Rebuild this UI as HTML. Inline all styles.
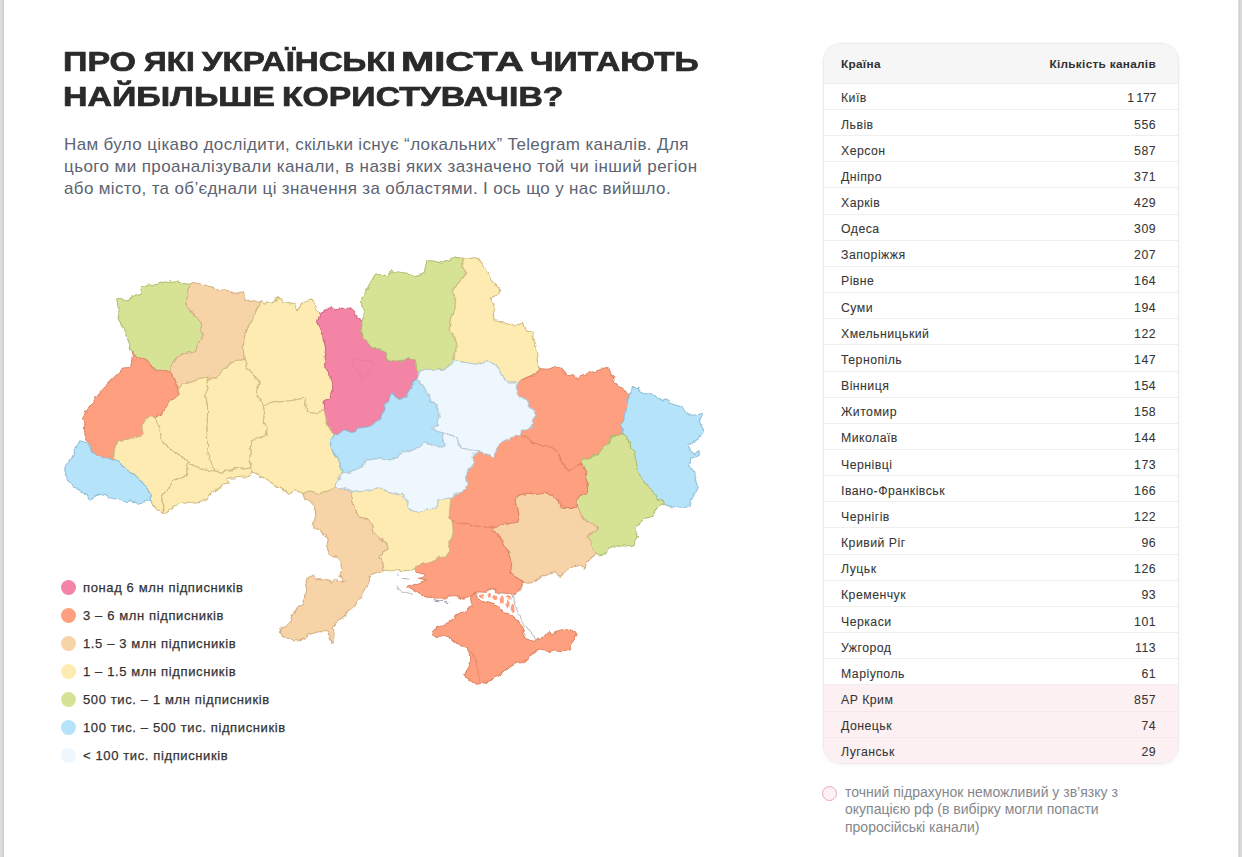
<!DOCTYPE html>
<html lang="uk">
<head>
<meta charset="utf-8">
<title>Про які українські міста читають найбільше користувачів?</title>
<style>
*{box-sizing:border-box;margin:0;padding:0}
html,body{width:1242px;height:857px;overflow:hidden;background:#fff}
body{font-family:"Liberation Sans",sans-serif;position:relative;color:#2b2b2b}
.edgeL{position:absolute;left:0;top:0;width:4px;height:857px;background:linear-gradient(90deg,#dcdcdc 0,#dadada 55%,#c9c9c9 85%,#e6e6e6 100%)}
.edgeR{position:absolute;left:1238px;top:0;width:4px;height:857px;background:linear-gradient(90deg,#ececec 0,#cfcfcf 25%,#d8d8d8 60%,#dadada 100%)}
h1{position:absolute;left:0;top:44px;font-size:27.2px;line-height:35.4px;font-weight:700;color:#2a2a2a;-webkit-text-stroke:.7px #2a2a2a;white-space:nowrap}
h1 span{position:absolute;top:0;transform-origin:0 0;display:block}
h1 span.l2{top:35.4px}
.lead{position:absolute;left:64px;top:134px;font-size:17px;line-height:21.8px;letter-spacing:.42px;color:#5c6372;white-space:nowrap}
#map{position:absolute;left:0;top:0}
.legend{position:absolute;left:60.5px;top:573.5px;list-style:none;font-size:13px;letter-spacing:.62px;color:#333;-webkit-text-stroke:.25px #333}
.legend li{height:28px;display:flex;align-items:center;white-space:nowrap}
.legend i{display:inline-block;width:15px;height:15px;border-radius:50%;margin-right:7.5px;flex:none}
.tbl{position:absolute;left:822.5px;top:42.6px;width:356px;height:721px;border-radius:18px;background:#fff;border:1px solid #ebebeb;box-shadow:0 1px 5px rgba(0,0,0,.045);overflow:hidden}
.tbl .hd{height:40.2px;background:#f6f6f6;display:flex;justify-content:space-between;align-items:center;padding:1.6px 21.5px 0 17.5px;font-weight:700;font-size:11.8px;letter-spacing:.3px;color:#303030;border-bottom:1.5px solid #ececec}
.tbl .r{height:26.17px;display:flex;justify-content:space-between;align-items:flex-start;padding:7.6px 21.5px 0 17.5px;font-size:12.3px;line-height:14px;letter-spacing:.46px;color:#363636;-webkit-text-stroke:.08px #363636;border-bottom:1px solid #efefef}
.tbl .r:last-child{border-bottom:0}
.tbl .r.p{background:#fdf0f3;border-bottom-color:#f8e6eb}
.note{position:absolute;left:845px;top:783.8px;font-size:14px;letter-spacing:0;line-height:17.5px;color:#84878d;white-space:nowrap}
.ring{position:absolute;left:822px;top:786px;width:15px;height:15px;border-radius:50%;border:1.5px solid #e6a8bd;background:#fdf1f5}
</style>
</head>
<body>
<div class="edgeL"></div><div class="edgeR"></div>
<h1><span style="left:63.1px;transform:scaleX(1.2488)">ПРО</span> <span style="left:144.0px;transform:scaleX(1.1604)">ЯКІ</span> <span style="left:202.1px;transform:scaleX(1.2156)">УКРАЇНСЬКІ</span> <span style="left:400.5px;transform:scaleX(1.4690)">МІСТА</span> <span style="left:530.3px;transform:scaleX(1.2342)">ЧИТАЮТЬ</span> <span class="l2" style="left:63.1px;transform:scaleX(1.2470)">НАЙБІЛЬШЕ</span> <span class="l2" style="left:281.5px;transform:scaleX(1.2416)">КОРИСТУВАЧІВ?</span></h1>
<p class="lead"><span style="letter-spacing:.365px">Нам було цікаво дослідити, скільки існує “локальних” Telegram каналів. Для</span><br>цього ми проаналізували канали, в назві яких зазначено той чи інший регіон<br><span style="letter-spacing:.35px">або місто, та об’єднали ці значення за областями. І ось що у нас вийшло.</span></p>
<svg id="map" width="1242" height="857" viewBox="0 0 1242 857">
<!--MAP-->
<defs><filter id="rough" x="40" y="240" width="690" height="460" filterUnits="userSpaceOnUse"><feTurbulence type="fractalNoise" baseFrequency="0.14" numOctaves="2" seed="7" result="n"/><feDisplacementMap in="SourceGraphic" in2="n" scale="4.5" xChannelSelector="R" yChannelSelector="G"/></filter></defs>
<g stroke-linejoin="round" stroke-width="1.1" filter="url(#rough)">
<path d="M131.5 352.0L129.2 348.3L130.0 345.0L126.7 336.7L123.3 328.3L119.2 320.0L117.5 315.0L118.3 308.3L116.7 300.0L121.7 298.3L128.3 300.8L133.3 296.7L140.0 293.3L141.7 287.5L148.3 285.0L158.3 284.2L170.0 280.8L175.0 281.7L181.7 283.3L190.0 284.2L188.3 293.3L186.7 301.7L188.3 308.3L193.3 314.2L198.3 318.3L201.7 325.0L200.8 330.0L202.5 335.0L199.2 341.7L196.7 348.3L194.2 353.3L188.3 352.5L181.7 354.2L176.7 358.3L171.7 365.0L170.0 372.5L163.3 370.0L156.7 370.8L151.7 365.0L145.0 360.0L138.3 357.5L133.3 354.2Z" fill="#d7e394" stroke="#b2bf76"/>
<path d="M190.0 284.2L193.3 282.5L201.7 284.2L211.7 286.7L218.3 290.0L226.7 290.0L235.0 293.3L243.3 291.7L245.0 300.0L253.3 300.8L260.8 301.7L257.5 308.3L253.3 316.7L248.3 326.7L244.2 336.7L243.3 348.3L244.2 359.2L235.0 361.7L228.3 365.0L220.0 373.3L213.3 378.3L208.3 381.0L207.5 377.0L200.0 378.5L191.7 380.8L183.3 383.3L179.2 388.3L175.0 383.3L172.5 376.7L170.0 372.5L171.7 365.0L176.7 358.3L181.7 354.2L188.3 352.5L194.2 353.3L196.7 348.3L199.2 341.7L202.5 335.0L200.8 330.0L201.7 325.0L198.3 318.3L193.3 314.2L188.3 308.3L186.7 301.7L188.3 293.3Z" fill="#f7d4a8" stroke="#d6b186"/>
<path d="M260.8 301.7L265.0 304.2L266.7 300.8L271.7 303.3L279.2 297.5L283.3 303.3L290.0 302.5L295.0 304.2L296.7 310.8L301.7 304.2L311.7 299.2L315.0 303.3L317.5 310.8L320.0 314.2L317.5 321.7L319.2 326.7L322.5 331.7L323.3 340.0L325.8 348.3L324.2 356.7L325.0 366.7L329.2 373.3L331.7 383.3L331.7 391.7L330.0 398.3L323.3 402.5L323.7 410.8L315.0 413.3L306.7 412.5L305.8 405.0L304.2 398.3L298.3 399.2L290.0 400.8L281.7 401.7L271.7 403.3L263.3 405.0L259.2 398.3L255.8 390.0L259.2 381.7L253.3 375.0L246.7 366.7L244.2 359.2L243.3 348.3L244.2 336.7L248.3 326.7L253.3 316.7L257.5 308.3Z" fill="#fdebb2" stroke="#d0bb80"/>
<path d="M320.0 314.2L325.0 310.0L331.7 306.7L335.0 310.0L341.7 308.0L350.0 308.3L354.2 312.5L355.8 316.7L362.0 321.0L361.3 326.7L362.5 335.0L366.7 340.8L370.0 347.5L380.0 349.2L385.0 353.3L387.5 360.0L395.0 362.5L403.3 360.8L408.3 357.5L414.2 360.0L415.8 366.7L419.5 371.7L417.5 378.5L415.0 380.0L412.5 385.8L409.2 391.7L405.0 396.7L400.0 399.2L395.0 397.5L391.7 392.5L390.0 396.7L385.8 403.3L383.3 411.7L380.0 418.3L375.0 423.3L368.3 426.7L360.0 428.3L353.3 431.7L345.0 429.2L340.0 432.5L334.2 435.0L331.7 430.0L326.7 425.0L325.8 416.7L323.7 410.8L323.3 402.5L330.0 398.3L331.7 391.7L331.7 383.3L329.2 373.3L325.0 366.7L324.2 356.7L325.8 348.3L323.3 340.0L322.5 331.7L319.2 326.7L317.5 321.7Z" fill="#f484a6" stroke="#d06a88"/>
<path d="M362.0 321.0L364.2 315.0L361.7 305.0L361.7 299.2L365.8 291.7L370.0 283.3L375.8 275.0L380.8 274.2L386.7 275.8L391.7 270.8L401.7 272.5L411.7 274.2L415.8 276.7L424.2 272.5L426.7 260.8L433.3 260.8L441.7 263.3L450.0 260.0L456.7 257.5L463.3 258.3L462.5 266.7L466.7 273.3L461.7 279.2L456.7 285.0L453.3 291.7L455.8 301.7L453.3 311.7L450.0 321.7L449.2 330.0L454.2 336.7L456.7 343.3L455.8 351.7L453.3 358.3L453.0 362.0L448.3 366.7L441.7 370.4L433.3 369.6L425.0 369.2L419.5 371.7L415.8 366.7L414.2 360.0L408.3 357.5L403.3 360.8L395.0 362.5L387.5 360.0L385.0 353.3L380.0 349.2L370.0 347.5L366.7 340.8L362.5 335.0L361.3 326.7Z" fill="#d7e394" stroke="#b2bf76"/>
<path d="M463.3 258.3L470.0 259.2L478.3 258.3L483.3 265.0L488.3 271.7L490.0 280.0L496.7 285.8L500.0 290.0L498.3 295.0L490.0 297.5L493.3 303.3L495.0 308.3L493.3 315.0L494.2 320.8L501.7 321.7L508.3 323.3L513.3 325.8L523.3 323.3L525.8 330.0L532.5 332.5L533.3 338.3L535.8 345.0L536.7 353.3L537.5 361.7L540.8 368.8L535.0 374.2L528.3 376.7L520.0 380.8L518.0 383.0L508.3 383.0L503.3 378.7L499.6 371.0L494.6 364.6L490.0 361.7L482.5 362.5L476.0 364.2L467.5 363.0L458.3 361.3L453.0 362.0L453.3 358.3L455.8 351.7L456.7 343.3L454.2 336.7L449.2 330.0L450.0 321.7L453.3 311.7L455.8 301.7L453.3 291.7L456.7 285.0L461.7 279.2L466.7 273.3L462.5 266.7Z" fill="#fdebb2" stroke="#d0bb80"/>
<path d="M540.8 368.8L548.3 369.2L555.0 366.7L561.7 368.3L566.7 374.2L573.3 375.0L577.5 379.2L583.3 375.0L593.3 371.7L601.7 369.2L607.5 367.5L610.0 373.3L613.3 376.7L615.0 382.5L620.0 387.5L625.0 390.8L628.3 395.8L627.5 403.3L625.8 410.0L623.3 416.7L621.7 423.3L622.5 430.0L623.3 434.2L616.7 434.2L611.7 436.7L608.3 443.0L603.3 448.7L598.3 453.7L591.7 457.0L583.3 459.2L581.7 463.3L575.0 466.7L568.3 471.0L565.0 466.7L560.0 458.0L556.7 451.3L551.7 447.5L543.3 446.3L535.0 443.5L528.3 438.3L520.8 435.0L521.3 430.0L526.7 430.0L531.5 427.0L532.5 421.3L536.2 416.3L534.0 411.5L528.8 406.7L526.7 400.0L520.0 397.5L516.2 393.0L518.0 383.0L520.0 380.8L528.3 376.7L535.0 374.2Z" fill="#fea080" stroke="#dd8768"/>
<path d="M628.3 395.8L632.5 391.7L633.3 387.5L638.3 387.5L639.2 391.7L646.7 394.2L651.7 393.3L656.7 398.3L661.7 400.8L667.5 398.3L670.8 403.3L678.3 405.8L684.2 410.0L689.2 415.0L696.7 415.0L702.5 413.3L701.7 417.5L699.2 420.8L701.7 426.7L704.2 430.8L700.0 435.8L696.7 440.0L691.7 443.3L687.5 445.0L689.2 450.0L693.3 454.2L699.2 450.8L699.2 455.0L695.0 456.7L690.8 458.3L688.3 465.0L693.3 470.0L695.0 478.3L697.5 485.0L695.0 491.7L691.7 498.3L690.0 506.7L685.0 507.5L678.3 506.7L670.0 506.7L664.2 504.2L662.5 500.0L656.7 499.2L655.0 495.0L650.0 488.3L643.3 482.5L640.0 475.8L637.5 468.0L635.8 460.0L634.2 453.0L629.6 448.0L629.2 443.3L626.7 437.5L623.3 434.2L622.5 430.0L621.7 423.3L623.3 416.7L625.8 410.0L627.5 403.3Z" fill="#b5e4fa" stroke="#93bfd7"/>
<path d="M623.3 434.2L626.7 437.5L629.2 443.3L629.6 448.0L634.2 453.0L635.8 460.0L637.5 468.0L640.0 475.8L643.3 482.5L650.0 488.3L655.0 495.0L656.7 499.2L662.5 500.0L664.2 504.2L658.3 506.7L654.2 511.7L653.3 515.8L646.7 518.3L640.0 521.7L636.7 526.7L635.8 533.3L637.5 536.7L635.0 540.0L634.2 545.8L630.0 546.7L623.3 545.8L615.0 546.7L608.3 549.2L604.2 554.2L601.7 556.7L595.8 554.2L593.3 548.3L590.0 541.7L588.3 536.7L593.3 532.5L598.3 528.3L593.3 525.0L586.7 521.7L581.7 516.7L579.2 510.0L577.5 505.0L576.7 498.3L581.7 495.8L587.5 495.0L587.5 486.7L585.8 478.3L586.7 471.7L583.3 467.5L581.7 463.3L583.3 459.2L591.7 457.0L598.3 453.7L603.3 448.7L608.3 443.0L611.7 436.7L616.7 434.2Z" fill="#d7e394" stroke="#b2bf76"/>
<path d="M577.5 505.0L579.2 510.0L581.7 516.7L586.7 521.7L593.3 525.0L598.3 528.3L593.3 532.5L588.3 536.7L590.0 541.7L593.3 548.3L595.8 554.2L591.7 557.5L586.7 562.5L584.2 569.2L580.0 565.0L573.3 566.7L566.7 569.2L563.3 575.0L560.0 577.5L555.0 571.7L548.3 573.3L541.7 576.7L535.0 581.7L528.3 583.3L523.3 581.7L515.0 576.7L510.0 570.0L510.8 560.0L508.3 551.7L503.3 543.3L500.0 536.7L492.0 527.5L500.0 525.0L510.0 523.3L516.7 522.5L518.3 516.7L516.7 508.3L515.0 500.0L518.3 495.0L526.7 493.3L536.7 494.2L545.0 493.3L553.3 495.8L557.5 500.0L560.0 506.7L566.7 507.5L575.0 507.5Z" fill="#f7d4a8" stroke="#d6b186"/>
<path d="M479.2 450.8L486.7 455.0L494.2 458.3L496.7 448.3L501.7 442.5L510.0 438.3L516.7 435.8L520.8 435.0L528.3 438.3L535.0 443.5L543.3 446.3L551.7 447.5L556.7 451.3L560.0 458.0L565.0 466.7L568.3 471.0L575.0 466.7L581.7 463.3L583.3 467.5L586.7 471.7L585.8 478.3L587.5 486.7L587.5 495.0L581.7 495.8L576.7 498.3L577.5 505.0L575.0 507.5L566.7 507.5L560.0 506.7L557.5 500.0L553.3 495.8L545.0 493.3L536.7 494.2L526.7 493.3L518.3 495.0L515.0 500.0L516.7 508.3L518.3 516.7L516.7 522.5L510.0 523.3L500.0 525.0L492.0 527.5L483.3 526.7L473.3 525.8L466.7 522.5L458.3 524.2L451.7 520.8L449.2 516.7L450.0 506.7L450.8 498.3L457.5 492.5L465.0 489.0L467.0 484.5L466.3 476.0L468.5 469.0L475.0 463.0L471.7 457.5Z" fill="#fea080" stroke="#dd8768"/>
<path d="M451.7 520.8L458.3 524.2L466.7 522.5L473.3 525.8L483.3 526.7L492.0 527.5L500.0 536.7L503.3 543.3L508.3 551.7L510.8 560.0L510.0 570.0L515.0 576.7L523.3 581.7L521.9 585.8L518.7 590.3L515.0 594.6L510.9 592.9L504.5 594.1L498.1 593.5L494.2 587.9L490.3 589.6L485.2 592.2L476.5 591.8L473.0 596.0L469.1 597.4L463.3 599.3L458.1 596.7L451.7 596.7L444.0 598.0L433.6 598.0L423.3 596.1L414.3 590.9L406.7 587.6L415.0 584.2L426.7 580.0L418.3 578.3L424.2 577.5L423.3 574.2L415.8 571.7L415.8 568.5L421.7 563.3L428.3 561.7L436.7 558.3L445.0 556.7L450.0 550.0L447.5 543.3L451.7 538.3L453.3 530.0Z" fill="#fea080" stroke="#dd8768"/>
<path d="M351.7 492.5L356.7 490.8L365.0 490.0L373.3 490.0L381.7 487.5L386.7 491.7L395.0 494.2L402.5 493.3L406.7 500.0L408.5 508.0L416.0 510.5L420.0 511.7L427.5 508.7L436.2 508.0L438.8 501.2L446.7 498.3L450.8 498.3L450.0 506.7L449.2 516.7L451.7 520.8L453.3 530.0L451.7 538.3L447.5 543.3L450.0 550.0L445.0 556.7L436.7 558.3L428.3 561.7L421.7 563.3L415.8 568.5L411.7 570.0L403.3 570.8L395.0 570.8L384.2 570.5L382.8 563.0L379.0 556.7L383.0 551.7L388.0 548.7L386.7 543.3L380.0 539.0L374.2 533.3L372.5 525.0L368.3 520.0L358.3 515.8L354.2 508.3L352.5 500.0Z" fill="#fdebb2" stroke="#d0bb80"/>
<path d="M303.3 493.3L310.0 490.8L318.3 493.3L325.0 492.5L331.7 489.2L335.0 487.5L340.0 487.5L346.7 490.0L351.7 492.5L352.5 500.0L354.2 508.3L358.3 515.8L368.3 520.0L372.5 525.0L374.2 533.3L380.0 539.0L386.7 543.3L388.0 548.7L383.0 551.7L379.0 556.7L382.8 563.0L384.2 570.5L376.7 573.3L370.0 576.7L367.5 583.3L363.3 591.7L358.3 600.0L351.7 608.3L345.0 615.0L338.3 620.8L331.7 626.7L333.3 630.0L334.2 635.0L333.3 641.7L330.8 642.5L330.0 636.7L326.7 631.7L318.3 631.7L310.0 634.2L303.3 638.3L298.3 640.8L291.7 640.8L285.0 638.3L280.8 633.3L280.0 628.3L285.8 626.7L290.8 621.7L290.0 616.7L295.0 612.5L298.3 606.7L302.5 603.3L305.0 596.7L306.7 590.0L305.0 580.8L308.3 577.5L314.2 575.0L316.7 580.0L319.2 577.5L322.5 580.8L325.8 579.2L330.8 582.5L334.2 579.2L338.3 581.7L344.2 580.8L340.0 575.8L341.7 570.0L340.8 562.5L336.7 557.5L329.2 553.3L326.7 546.7L328.3 538.3L323.3 535.0L320.0 530.0L314.2 528.3L312.5 523.3L315.0 520.0L315.8 513.3L314.2 505.0L310.0 500.0L304.2 499.2Z" fill="#f7d4a8" stroke="#d6b186"/>
<path d="M263.3 405.0L271.7 403.3L281.7 401.7L290.0 400.8L298.3 399.2L304.2 398.3L305.8 405.0L306.7 412.5L315.0 413.3L323.7 410.8L325.8 416.7L326.7 425.0L331.7 430.0L334.2 435.0L330.8 440.8L330.0 446.7L333.3 453.3L338.3 460.0L341.7 466.7L343.3 473.3L339.2 478.3L335.8 483.3L335.0 487.5L331.7 489.2L325.0 492.5L318.3 493.3L310.0 490.8L303.3 493.3L295.0 490.8L288.3 493.3L283.3 490.0L275.8 485.8L268.3 480.8L260.0 475.8L253.0 473.0L250.8 467.0L250.0 458.3L250.0 448.3L252.5 440.8L260.0 437.5L266.7 435.0L266.7 428.3L263.3 421.7L264.2 413.3Z" fill="#fdebb2" stroke="#d0bb80"/>
<path d="M244.2 359.2L246.7 366.7L253.3 375.0L259.2 381.7L255.8 390.0L259.2 398.3L263.3 405.0L264.2 413.3L263.3 421.7L266.7 428.3L266.7 435.0L260.0 437.5L252.5 440.8L250.0 448.3L250.0 458.3L250.8 467.0L243.3 468.0L235.0 469.0L226.7 470.8L221.7 473.5L215.5 471.0L210.8 465.0L208.3 456.7L207.5 446.7L207.5 436.7L206.7 426.7L207.5 416.7L207.5 406.7L205.8 396.7L206.7 388.3L208.3 381.0L213.3 378.3L220.0 373.3L228.3 365.0L235.0 361.7Z" fill="#fdebb2" stroke="#d0bb80"/>
<path d="M179.2 388.3L183.3 383.3L191.7 380.8L200.0 378.5L207.5 377.0L208.3 381.0L206.7 388.3L205.8 396.7L207.5 406.7L207.5 416.7L206.7 426.7L207.5 436.7L207.5 446.7L208.3 456.7L210.8 465.0L215.5 471.0L211.7 470.8L205.0 470.0L200.0 468.0L193.3 465.3L187.5 463.5L183.3 457.5L176.7 453.3L170.0 449.2L163.3 443.3L160.8 435.0L159.2 426.7L155.8 420.0L155.0 417.5L161.7 413.3L165.8 406.7L170.0 400.8L177.5 395.8L178.3 391.7Z" fill="#fdebb2" stroke="#d0bb80"/>
<path d="M89.2 443.3L85.0 435.0L84.2 425.0L82.5 417.5L85.0 413.3L90.8 405.0L98.3 395.0L106.7 385.0L115.0 376.7L121.7 370.0L130.8 366.7L132.5 356.7L131.5 352.0L133.3 354.2L138.3 357.5L145.0 360.0L151.7 365.0L156.7 370.8L163.3 370.0L170.0 372.5L172.5 376.7L175.0 383.3L179.2 388.3L178.3 391.7L177.5 395.8L170.0 400.8L165.8 406.7L161.7 413.3L155.0 417.5L147.5 416.7L144.2 421.7L141.7 428.3L144.2 434.2L135.0 436.7L126.7 439.2L118.3 441.7L115.0 446.7L114.2 453.3L113.3 459.5L108.3 459.2L103.3 456.7L95.0 454.2L90.8 450.0Z" fill="#fea080" stroke="#dd8768"/>
<path d="M155.0 417.5L155.8 420.0L159.2 426.7L160.8 435.0L163.3 443.3L170.0 449.2L176.7 453.3L183.3 457.5L187.5 463.5L186.7 471.7L186.7 475.0L181.7 477.5L175.0 480.0L169.2 486.7L164.2 493.3L161.7 500.0L164.2 506.7L161.7 513.3L158.3 510.8L153.3 506.7L150.8 500.8L150.0 495.0L147.5 488.3L143.3 482.5L138.3 478.3L133.3 473.3L126.7 470.0L121.7 465.0L117.5 460.8L113.3 459.5L114.2 453.3L115.0 446.7L118.3 441.7L126.7 439.2L135.0 436.7L144.2 434.2L141.7 428.3L144.2 421.7L147.5 416.7Z" fill="#fdebb2" stroke="#d0bb80"/>
<path d="M113.3 459.5L117.5 460.8L121.7 465.0L126.7 470.0L133.3 473.3L138.3 478.3L143.3 482.5L147.5 488.3L150.0 495.0L150.8 500.8L145.0 501.7L138.3 503.3L131.7 500.8L125.0 501.7L118.3 499.2L111.7 498.3L105.0 494.2L99.2 493.3L95.0 497.5L90.0 500.0L86.7 494.2L80.0 491.7L73.3 485.0L67.5 479.2L64.2 473.3L66.7 465.8L71.7 458.3L75.8 448.3L80.0 440.8L89.2 443.3L90.8 450.0L95.0 454.2L103.3 456.7L108.3 459.2Z" fill="#b5e4fa" stroke="#93bfd7"/>
<path d="M187.5 463.5L193.3 465.3L200.0 468.0L205.0 470.0L211.7 470.8L215.5 471.0L221.7 473.5L226.7 470.8L235.0 469.0L243.3 468.0L250.8 467.0L253.0 473.0L246.7 476.7L238.3 477.5L231.7 478.3L226.7 478.3L229.2 482.5L223.3 484.2L220.0 486.7L215.0 490.0L210.0 495.0L206.7 500.0L198.3 501.7L188.3 502.5L181.7 503.3L175.0 505.0L171.7 508.3L168.3 512.5L165.0 513.3L161.7 513.3L164.2 506.7L161.7 500.0L164.2 493.3L169.2 486.7L175.0 480.0L181.7 477.5L186.7 475.0L186.7 471.7Z" fill="#fdebb2" stroke="#d0bb80"/>
<path d="M334.2 435.0L340.0 432.5L345.0 429.2L353.3 431.7L360.0 428.3L368.3 426.7L375.0 423.3L380.0 418.3L383.3 411.7L385.8 403.3L390.0 396.7L391.7 392.5L395.0 397.5L400.0 399.2L405.0 396.7L409.2 391.7L412.5 385.8L415.0 380.0L417.5 378.5L423.3 385.8L427.5 393.3L430.8 400.8L436.7 406.7L440.0 413.3L437.5 420.0L438.3 425.8L431.7 427.5L436.7 430.8L443.3 432.5L442.5 438.3L444.2 445.8L436.7 447.5L430.0 443.3L423.3 443.3L418.3 448.3L411.7 450.0L403.3 451.7L396.7 456.7L390.0 459.6L381.7 458.0L373.3 459.2L365.0 460.8L362.5 466.7L356.7 469.2L348.3 472.5L343.3 473.3L341.7 466.7L338.3 460.0L333.3 453.3L330.0 446.7L330.8 440.8Z" fill="#b5e4fa" stroke="#93bfd7"/>
<path d="M419.5 371.7L425.0 369.2L433.3 369.6L441.7 370.4L448.3 366.7L453.0 362.0L458.3 361.3L467.5 363.0L476.0 364.2L482.5 362.5L490.0 361.7L494.6 364.6L499.6 371.0L503.3 378.7L508.3 383.0L518.0 383.0L516.2 393.0L520.0 397.5L526.7 400.0L528.8 406.7L534.0 411.5L536.2 416.3L532.5 421.3L531.5 427.0L526.7 430.0L521.3 430.0L520.8 435.0L516.7 435.8L510.0 438.3L501.7 442.5L496.7 448.3L494.2 458.3L486.7 455.0L479.2 450.8L470.0 450.0L461.7 448.3L458.3 442.5L456.7 438.3L450.0 435.0L443.3 432.5L436.7 430.8L431.7 427.5L438.3 425.8L437.5 420.0L440.0 413.3L436.7 406.7L430.8 400.8L427.5 393.3L423.3 385.8L417.5 378.5Z" fill="#edf7fd" stroke="#b9ccd7"/>
<path d="M343.3 473.3L348.3 472.5L356.7 469.2L362.5 466.7L365.0 460.8L373.3 459.2L381.7 458.0L390.0 459.6L396.7 456.7L403.3 451.7L411.7 450.0L418.3 448.3L423.3 443.3L430.0 443.3L436.7 447.5L444.2 445.8L442.5 438.3L443.3 432.5L450.0 435.0L456.7 438.3L458.3 442.5L461.7 448.3L470.0 450.0L479.2 450.8L471.7 457.5L475.0 463.0L468.5 469.0L466.3 476.0L467.0 484.5L465.0 489.0L457.5 492.5L450.8 498.3L446.7 498.3L438.8 501.2L436.2 508.0L427.5 508.7L420.0 511.7L416.0 510.5L408.5 508.0L406.7 500.0L402.5 493.3L395.0 494.2L386.7 491.7L381.7 487.5L373.3 490.0L365.0 490.0L356.7 490.8L351.7 492.5L346.7 490.0L340.0 487.5L335.0 487.5L335.8 483.3L339.2 478.3Z" fill="#edf7fd" stroke="#b9ccd7"/>
<path d="M470.5 596.5L476.5 592.2L477.4 598.6L482.6 601.2L490.3 603.8L498.1 606.4L503.2 611.5L508.4 614.1L513.5 618.0L518.7 621.8L522.5 625.7L523.8 629.6L521.9 633.4L525.1 637.3L531.6 639.9L535.4 640.5L538.3 638.3L545.0 636.7L549.2 630.8L551.7 635.0L558.3 631.7L565.0 630.0L573.3 630.8L577.5 633.3L575.0 638.3L571.7 643.3L570.0 650.0L561.7 651.7L555.0 650.8L550.0 652.5L545.0 650.0L538.3 649.2L534.2 653.3L530.0 656.7L523.3 662.5L516.7 663.3L510.0 666.7L503.3 671.7L496.7 676.7L490.0 680.8L483.3 683.3L476.7 684.2L471.7 681.7L466.7 677.5L463.3 674.2L467.5 671.7L468.3 665.0L470.8 658.3L470.0 651.7L466.7 646.7L460.0 645.8L455.0 641.7L450.0 637.5L443.3 635.0L436.7 637.5L431.7 635.0L432.5 630.8L438.3 627.5L446.7 622.5L455.0 617.5L455.5 615.0L459.4 613.5L467.1 610.2L472.3 605.1L471.0 601.2Z" fill="#fea080" stroke="#dd8768"/>
<path d="M351.9 359.8L359.5 360.1L364.2 360.4L368.9 359.6L372.4 361.0L372.4 365.7L370.0 370.4L366.5 375.6L363.6 380.3L360.7 375.6L357.2 370.4L353.7 367.4L351.3 363.9 Z" fill="none" stroke="#cf6c8d" stroke-opacity=".38" stroke-width=".8"/>
<g fill="#fea080" stroke="none">
<path d="M480 594.5l3 .6 1.5 2.2-2.5 1-2.6-1.6z"/><path d="M486.5 595.5l2.5-2 2 1.2-.8 3.4-2.8.6z"/><path d="M493 597.5l2.2-3.5 1.8 1 .3 4.2-2.6 1.2z"/><path d="M499.5 599l2-2.6 2.4 1.4-.4 4.6-2.4 1.2z"/><path d="M505 604l2.4-4 2 1.6 .2 5.4-2.2 1.6z"/><path d="M510.5 609l1.6-5.5 1.8 1.2.8 7-2 1.5z"/><path d="M507 597l3-1.2 2.6 1.2-1.4 2.4-3.2.2z"/>
</g>
<g fill="none" stroke="#9a9ea8" stroke-width=".7" stroke-linecap="round">
<path d="M513.4 595.2L515 605l6.7 15 8.3 11.7 5.8 7.5"/>
<path d="M396.7 574.2l5 4.1 8.3 .9"/><path d="M396.7 585l2.5 5 12.5 4.2"/><path d="M433 599.6l9 1.6 8 1.3" stroke="#8a8f9a" stroke-width="1"/>
<path d="M523.5 583l-2.5 6-4.5 5.2" stroke="#c9ad88"/>
</g>
<path d="M470 650.5l3.5 5 3 8 1.6 9.5 2.6 9" fill="none" stroke="#d98464" stroke-width=".7"/>
</g>
<!--/MAP-->
</svg>
<ul class="legend">
<li><i style="background:#f484a6"></i>понад 6 млн підписників</li>
<li><i style="background:#fea080"></i>3 – 6 млн підписників</li>
<li><i style="background:#f7d4a8"></i>1.5 – 3 млн підписників</li>
<li><i style="background:#fdebb2"></i>1 – 1.5 млн підписників</li>
<li><i style="background:#d7e394"></i>500 тис. – 1 млн підписників</li>
<li><i style="background:#b5e4fa"></i>100 тис. – 500 тис. підписників</li>
<li><i style="background:#edf7fd"></i>&lt; 100 тис. підписників</li>
</ul>
<div class="tbl">
<div class="hd"><span>Країна</span><span>Кількість каналів</span></div>
<div class="r"><span>Київ</span><span style="letter-spacing:-.3px;word-spacing:-.5px">1 177</span></div>
<div class="r"><span>Львів</span><span>556</span></div>
<div class="r"><span>Херсон</span><span>587</span></div>
<div class="r"><span>Дніпро</span><span>371</span></div>
<div class="r"><span>Харків</span><span>429</span></div>
<div class="r"><span>Одеса</span><span>309</span></div>
<div class="r"><span>Запоріжжя</span><span>207</span></div>
<div class="r"><span>Рівне</span><span>164</span></div>
<div class="r"><span>Суми</span><span>194</span></div>
<div class="r"><span>Хмельницький</span><span>122</span></div>
<div class="r"><span>Тернопіль</span><span>147</span></div>
<div class="r"><span>Вінниця</span><span>154</span></div>
<div class="r"><span>Житомир</span><span>158</span></div>
<div class="r"><span>Миколаїв</span><span>144</span></div>
<div class="r"><span>Чернівці</span><span>173</span></div>
<div class="r"><span>Івано-Франківськ</span><span>166</span></div>
<div class="r"><span>Чернігів</span><span>122</span></div>
<div class="r"><span>Кривий Ріг</span><span>96</span></div>
<div class="r"><span>Луцьк</span><span>126</span></div>
<div class="r"><span>Кременчук</span><span>93</span></div>
<div class="r"><span>Черкаси</span><span>101</span></div>
<div class="r"><span>Ужгород</span><span>113</span></div>
<div class="r"><span>Маріуполь</span><span>61</span></div>
<div class="r p"><span>АР Крим</span><span>857</span></div>
<div class="r p"><span>Донецьк</span><span>74</span></div>
<div class="r p"><span>Луганськ</span><span>29</span></div>
</div>
<div class="ring"></div>
<p class="note">точний підрахунок неможливий у зв’язку з<br>окупацією рф (в вибірку могли попасти<br>проросійські канали)</p>
</body>
</html>
